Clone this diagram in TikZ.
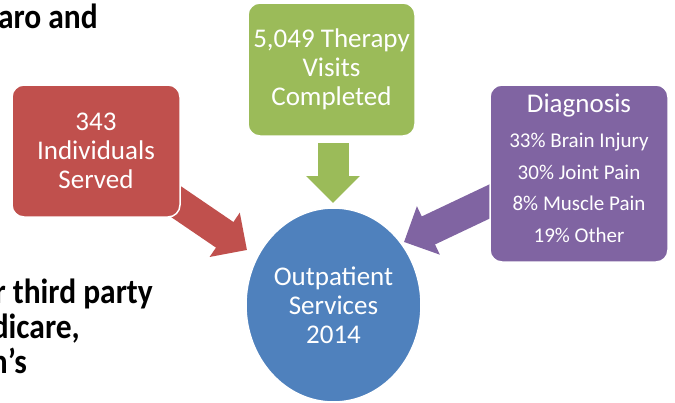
\documentclass[tikz,border=0pt]{standalone}
\usepackage{fontspec}
\setmainfont{Carlito}
\newfontfamily\blk[FakeStretch=0.9]{Carlito}
\usetikzlibrary{arrows.meta,shapes.geometric,backgrounds}
\definecolor{cred}{HTML}{C0504D}
\definecolor{cgreen}{HTML}{9BBB59}
\definecolor{cpurple}{HTML}{8064A2}
\definecolor{cblue}{HTML}{4F81BD}
\begin{document}
\begin{tikzpicture}[x=1pt,y=-1pt,
  box/.style={rectangle, rounded corners=12pt, draw=white, line width=1.5pt,
    text=white, align=center, inner sep=0pt},
  bigtxt/.style={font=\fontsize{27}{29}\selectfont},
  blockarrow/.style={line width=31pt, -{Triangle[length=27pt,width=52pt]}},
  side/.style={font=\blk\bfseries\fontsize{35}{40}\selectfont, anchor=base east, inner sep=0pt}]
\useasboundingbox (0,0) rectangle (675,402);
\clip (0,0) rectangle (675,402);
% side texts
\node[side] (t1) at (98,28) {aro and};
\node[side] (t2) at (153,303) {r third party};
\node[side] (t3) at (80,338) {dicare,};
\node[side] (t4) at (27,373) {n’s};
% boxes
\node[box, fill=cred, minimum width=168pt, minimum height=132pt, bigtxt] (red) at (96,151) {343\\Individuals\\Served};
\node[box, fill=cgreen, minimum width=167pt, minimum height=133pt, bigtxt] (green) at (331.5,69.5) {5,049 Therapy\\Visits\\Completed};
\node[box, fill=cpurple, minimum width=178pt, minimum height=177pt,
  font=\fontsize{21}{31.5}\selectfont] (purple) at (579,173.5)
  {{\fontsize{27}{29}\selectfont Diagnosis}\\[4pt]33\% Brain Injury\\30\% Joint Pain\\8\% Muscle Pain\\19\% Other\rule[-11.5pt]{0pt}{0pt}};
\node[ellipse, fill=cblue, draw=white, line width=1.5pt, text=white, align=center,
  inner sep=0pt, minimum width=175pt, minimum height=194pt, bigtxt] (ell) at (333.5,305)
  {Outpatient\\Services\\2014};
% arrow ends
\coordinate (rs) at (156,188);
\coordinate (rt) at (247,250);
\coordinate (gs) at (333,143);
\coordinate (gt) at (333,203);
\coordinate (ps) at (499,197);
\coordinate (pt) at (404,242);
\begin{scope}[on background layer]
\draw[blockarrow, draw=cred, fill=cred] (rs) -- (rt);
\draw[blockarrow, draw=cgreen, fill=cgreen] (gs) -- (gt);
\draw[blockarrow, draw=cpurple, fill=cpurple] (ps) -- (pt);
\end{scope}
\end{tikzpicture}
\end{document}
